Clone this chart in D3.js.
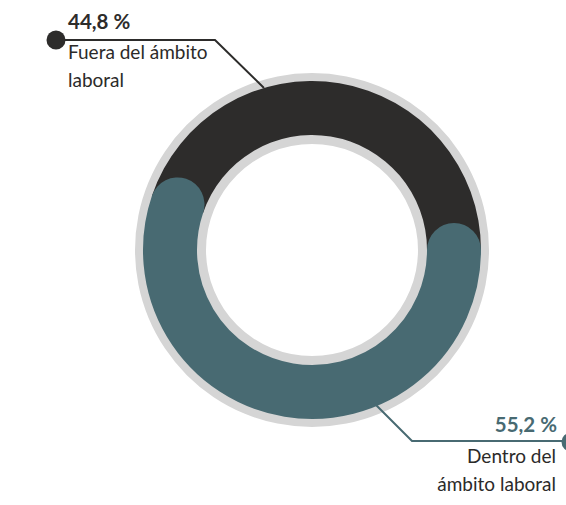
<!DOCTYPE html>
<html><head><meta charset="utf-8">
<script src="https://cdn.jsdelivr.net/npm/d3@7"></script>
<style>html,body{margin:0;padding:0;background:#fff;}svg{display:block;font-family:Lato,"Open Sans",sans-serif;}</style>
</head><body>
<svg id="c" width="566" height="505"></svg>
<script>
const categories = ["Dentro del ámbito laboral", "Fuera del ámbito laboral"];
const values = [55.2, 44.8];
const valueLabels = ["55,2 %", "44,8 %"];
const labelLines = [["Dentro del", "ámbito laboral"], ["Fuera del ámbito", "laboral"]];
const colors = ["#486a72", "#2d2c2b"];

const svg = d3.select("#c");
const cx = 312, cy = 250;
const rGreyOut = 177, rOut = 169, rIn = 115, rGreyIn = 106;
const g = svg.append("g").attr("transform", `translate(${cx},${cy})`);

// grey rings
g.append("path").attr("d", d3.arc()({innerRadius: rGreyIn, outerRadius: rGreyOut, startAngle: 0, endAngle: 2*Math.PI}))
  .attr("fill", "#d5d5d5");

const pie = d3.pie().sort(null).startAngle(Math.PI/2).endAngle(Math.PI/2 + 2*Math.PI);
const arcs = pie(values);

// dark segment (drawn as band)
g.append("path").attr("d", d3.arc()({innerRadius: rIn, outerRadius: rOut, startAngle: arcs[1].startAngle, endAngle: arcs[1].endAngle}))
  .attr("fill", colors[1]);

// teal segment with round caps
const rMid = (rIn + rOut) / 2;
const p = d3.path();
const a0 = arcs[0].startAngle - Math.PI/2, a1 = arcs[0].endAngle - Math.PI/2;
p.moveTo(rMid*Math.cos(a0), rMid*Math.sin(a0));
p.arc(0, 0, rMid, a0, a1, false);
g.append("path").attr("d", p.toString()).attr("fill", "none")
  .attr("stroke", colors[0]).attr("stroke-width", rOut - rIn).attr("stroke-linecap", "round");

// Leader: dark (Fuera)
svg.append("polyline").attr("points", "57,40 215,40 264,88")
  .attr("fill", "none").attr("stroke", colors[1]).attr("stroke-width", 2);
svg.append("circle").attr("cx", 56).attr("cy", 40).attr("r", 9.5).attr("fill", colors[1]);
svg.append("text").attr("x", 68).attr("y", 29).attr("font-size", 20.5).attr("font-weight", 700)
  .attr("fill", colors[1]).text(valueLabels[1]);
labelLines[1].forEach((t, i) => {
  svg.append("text").attr("x", 68).attr("y", 59 + i*28).attr("font-size", 19)
    .attr("fill", "#2b2a29").text(t);
});

// Leader: teal (Dentro)
svg.append("polyline").attr("points", "375,404 412,441 568,441")
  .attr("fill", "none").attr("stroke", colors[0]).attr("stroke-width", 2);
svg.append("circle").attr("cx", 571).attr("cy", 442).attr("r", 9.5).attr("fill", colors[0]);
svg.append("text").attr("x", 557).attr("y", 432).attr("font-size", 20.5).attr("font-weight", 700)
  .attr("text-anchor", "end").attr("fill", colors[0]).text(valueLabels[0]);
labelLines[0].forEach((t, i) => {
  svg.append("text").attr("x", 556).attr("y", 463 + i*28).attr("font-size", 19)
    .attr("text-anchor", "end").attr("fill", "#2b2a29").text(t);
});
</script>
</body></html>
